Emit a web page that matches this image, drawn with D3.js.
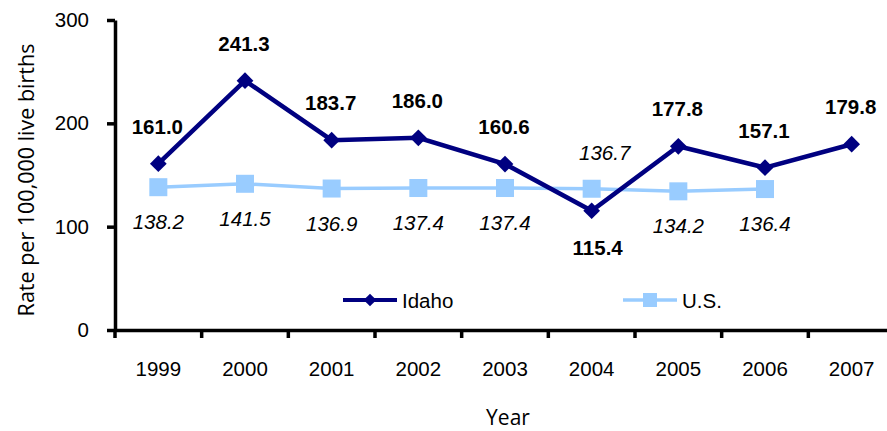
<!DOCTYPE html>
<html><head><meta charset="utf-8">
<script src="https://cdn.jsdelivr.net/npm/d3@7"></script>
<style>body{margin:0;background:#fff;} svg{display:block;}</style>
</head><body>
<svg id="c" width="887" height="431"></svg>
<script>
const years = ["1999","2000","2001","2002","2003","2004","2005","2006","2007"];
const idaho = [161.0,241.3,183.7,186.0,160.6,115.4,177.8,157.1,179.8];
const us = [138.2,141.5,136.9,137.4,137.4,136.7,134.2,136.4,null];
const idahoLabelSide = ["above","above","above","above","above","below","above","above","above"];
const usLabelSide = ["below","below","below","below","below","above","below","below","below"];
const yTicks = [0,100,200,300];

const FONT = "Liberation Sans, Arial, sans-serif";
const FS = 20.5;
const svg = d3.select("#c");
const x = d3.scaleBand().domain(years).range([115,895]);
const y = d3.scaleLinear().domain([0,300]).range([330,20]);
const cx = d => x(d) + x.bandwidth()/2;

// axes
const yAxis = svg.append("g").attr("transform","translate(115,0)")
  .call(d3.axisLeft(y).tickValues(yTicks).tickSize(8).tickPadding(18).tickSizeOuter(0));
yAxis.select(".domain").attr("stroke","#000").attr("stroke-width",3.5);
yAxis.selectAll(".tick line").attr("stroke","#000").attr("stroke-width",3.5);
yAxis.selectAll(".tick text").attr("font-family",FONT).attr("font-size",FS).attr("fill","#000");

const xAxis = svg.append("g").attr("transform","translate(0,330)")
  .call(d3.axisBottom(x).tickSize(0).tickPadding(31));
xAxis.select(".domain").attr("stroke","#000").attr("stroke-width",3.5);
xAxis.selectAll(".tick text").attr("font-family",FONT).attr("font-size",FS).attr("fill","#000");
// boundary ticks
svg.append("g").selectAll("line").data(years).join("line")
  .attr("x1",d=>x(d)).attr("x2",d=>x(d)).attr("y1",330).attr("y2",338)
  .attr("stroke","#000").attr("stroke-width",3.5);

// US line
const usData = years.map((yr,i)=>({yr, v:us[i], side:usLabelSide[i]})).filter(d=>d.v!=null);
svg.append("path").datum(usData)
  .attr("d", d3.line().x(d=>cx(d.yr)).y(d=>y(d.v)))
  .attr("fill","none").attr("stroke","#99CCFF").attr("stroke-width",3.5);
svg.append("g").selectAll("rect").data(usData).join("rect")
  .attr("x",d=>cx(d.yr)-9).attr("y",d=>y(d.v)-9).attr("width",18).attr("height",18)
  .attr("fill","#99CCFF");

// Idaho line
const idData = years.map((yr,i)=>({yr, v:idaho[i], side:idahoLabelSide[i]}));
svg.append("path").datum(idData)
  .attr("d", d3.line().x(d=>cx(d.yr)).y(d=>y(d.v)))
  .attr("fill","none").attr("stroke","#000080").attr("stroke-width",4.5);
svg.append("g").selectAll("path").data(idData).join("path")
  .attr("transform",d=>`translate(${cx(d.yr)},${y(d.v)}) rotate(45)`)
  .attr("d", d3.symbol().type(d3.symbolSquare).size(140))
  .attr("fill","#000080");

// labels
svg.append("g").selectAll("text").data(idData).join("text")
  .attr("x",d=>cx(d.yr)+(d.side==="below"?6:-1))
  .attr("y",d=>d.side==="above"? y(d.v)-30 : y(d.v)+44)
  .attr("text-anchor","middle")
  .attr("font-family",FONT).attr("font-weight","bold")
  .attr("font-size",FS).attr("fill","#000")
  .text(d=>d.v.toFixed(1));
svg.append("g").selectAll("text").data(usData).join("text")
  .attr("x",d=>cx(d.yr)+(d.side==="above"?13:0))
  .attr("y",d=>d.side==="below"? y(d.v)+42 : y(d.v)-29)
  .attr("text-anchor","middle")
  .attr("font-family",FONT).attr("font-style","italic")
  .attr("font-size",FS).attr("fill","#000")
  .text(d=>d.v.toFixed(1));

// legend
const leg = [{name:"Idaho", color:"#000080", x:343, sym:"diamond"},{name:"U.S.", color:"#99CCFF", x:623, sym:"square"}];
const lg = svg.append("g");
leg.forEach(l=>{
  lg.append("line").attr("x1",l.x).attr("x2",l.x+54).attr("y1",300).attr("y2",300)
    .attr("stroke",l.color).attr("stroke-width",l.sym==="diamond"?4:3.5);
  if(l.sym==="diamond"){
    lg.append("path").attr("transform",`translate(${l.x+27},300) rotate(45)`)
      .attr("d",d3.symbol().type(d3.symbolSquare).size(80)).attr("fill",l.color);
  } else {
    lg.append("rect").attr("x",l.x+20).attr("y",293).attr("width",14).attr("height",14).attr("fill",l.color);
  }
  lg.append("text").attr("x",l.x+59).attr("y",307.5)
    .attr("font-family",FONT).attr("font-size",FS).attr("fill","#000")
    .text(l.name);
});

// titles
svg.append("text").attr("x",508).attr("y",424.5).attr("text-anchor","middle")
  .attr("font-family","Open Sans, sans-serif").attr("font-size",21).attr("fill","#000").text("Year");
svg.append("text").attr("transform","translate(34,180) rotate(-90)").attr("text-anchor","middle")
  .attr("font-family","Open Sans, sans-serif").attr("font-size",21.5).attr("fill","#000").text("Rate per 100,000 live births");
</script>
</body></html>
